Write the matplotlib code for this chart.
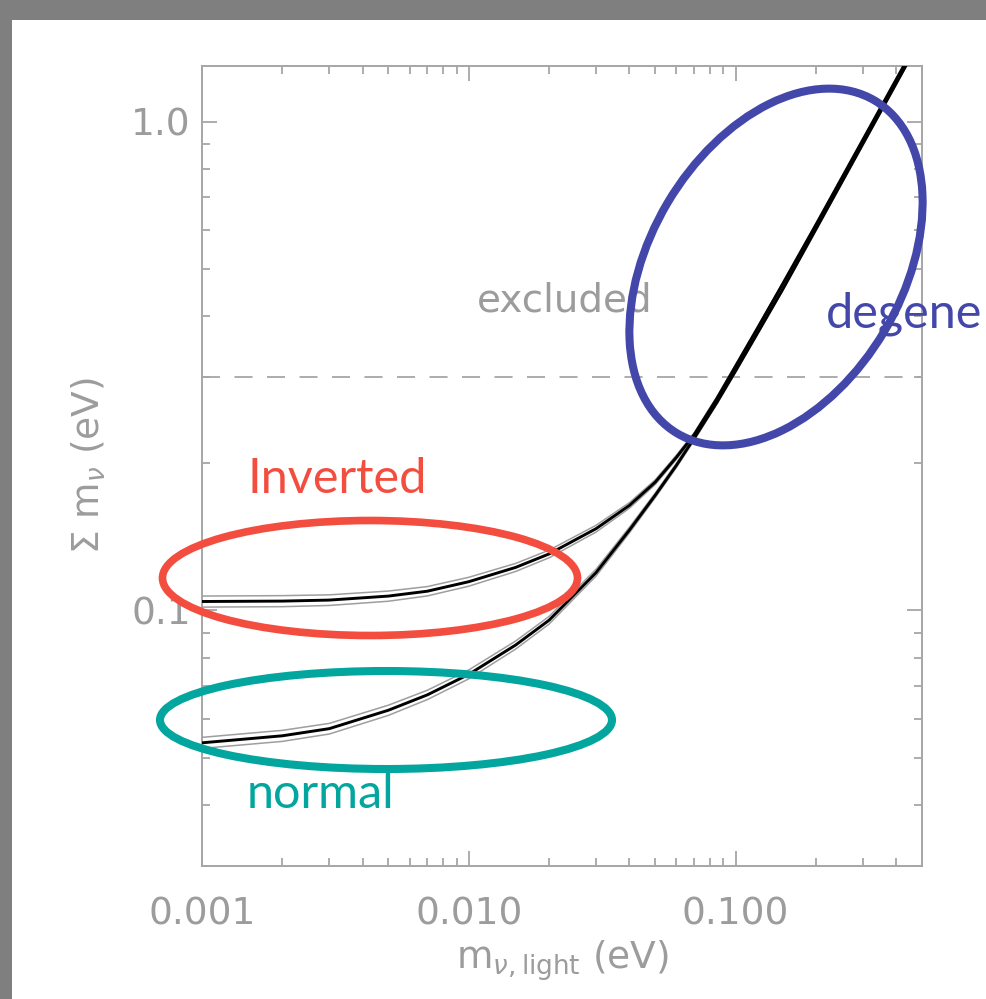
import numpy as np
import matplotlib
matplotlib.use('Agg')
import matplotlib.pyplot as plt
from matplotlib.patches import Ellipse, Rectangle
from matplotlib.ticker import LogLocator, NullFormatter, FixedLocator, FixedFormatter

# lightest neutrino mass (eV) and the sum of masses
m_light = [0.001, 0.002, 0.003, 0.005, 0.007, 0.01, 0.015, 0.02, 0.03, 0.04,
           0.05, 0.06, 0.07, 0.085, 0.1, 0.12, 0.15, 0.2, 0.3, 0.45]
sum_normal = [0.0536, 0.0554, 0.0573, 0.0625, 0.0672, 0.0740, 0.0850, 0.0955, 0.1195, 0.146,
              0.172, 0.198, 0.2251, 0.2661, 0.309, 0.3668, 0.453, 0.602, 0.900, 1.345]
sum_inverted = [0.1043, 0.1045, 0.1050, 0.1070, 0.1095, 0.1145, 0.1225, 0.1305, 0.1470, 0.1640,
                0.1830, 0.2057, 0.2290, 0.2711, 0.316, 0.3755, 0.465, 0.615, 0.918, 1.37]
# relative half width of the grey uncertainty band
band_rel = [0.026, 0.026, 0.025, 0.024, 0.022, 0.021, 0.019, 0.018, 0.016, 0.013,
            0.011, 0.010, 0.009, 0.008, 0.007, 0.006, 0.005, 0.004, 0.004, 0.004]

excluded_limit = 0.3

x_ticks = [0.001, 0.01, 0.1]
x_tick_labels = ['0.001', '0.010', '0.100']
y_ticks = [0.1, 1.0]
y_tick_labels = ['0.1', '1.0']

W, H = 986, 999
AX_GREY = '#a6a6a6'
TXT_GREY = '#9c9c9c'
RED = '#f24d3e'
TEAL = '#03a59f'
BLUE = '#4347a9'


def draw_hierarchy(ax, x, y, rel):
    x = np.array(x)
    y = np.array(y)
    rel = np.array(rel)
    ax.plot(x, y * (1 + rel), color='#9e9e9e', lw=1.1, zorder=3)
    ax.plot(x, y * (1 - rel), color='#9e9e9e', lw=1.1, zorder=3)
    ax.plot(x, y, color='black', lw=2.1, zorder=4)


def main():
    fig = plt.figure(figsize=(W / 100, H / 100), dpi=100)
    fig.patch.set_facecolor('#7f7f7f')
    # white page with grey strip on left and top
    fig.add_artist(Rectangle((12 / W, 0), 1, (H - 20) / H, transform=fig.transFigure,
                             facecolor='white', edgecolor='none', zorder=0))

    ax = fig.add_axes([202 / W, (H - 866) / H, 720 / W, 800 / H])
    ax.set_facecolor('none')
    ax.set_xscale('log')
    ax.set_yscale('log')
    ax.set_xlim(0.001, 0.5)
    ax.set_ylim(0.03, 1.3)

    draw_hierarchy(ax, m_light, sum_normal, band_rel)
    draw_hierarchy(ax, m_light, sum_inverted, band_rel)

    ax.axhline(excluded_limit, color=AX_GREY, lw=1.3, ls=(0, (10, 8)), zorder=2)
    ax.text(0.0228, 0.43, 'excluded', color=TXT_GREY, fontsize=28,
            ha='center', va='center', zorder=2)

    for sp in ax.spines.values():
        sp.set_color(AX_GREY)
        sp.set_linewidth(1.4)

    ax.xaxis.set_major_locator(FixedLocator(x_ticks))
    ax.xaxis.set_major_formatter(FixedFormatter(x_tick_labels))
    ax.xaxis.set_minor_locator(LogLocator(base=10, subs=np.arange(2, 10)))
    ax.xaxis.set_minor_formatter(NullFormatter())
    ax.yaxis.set_major_locator(FixedLocator(y_ticks))
    ax.yaxis.set_major_formatter(FixedFormatter(y_tick_labels))
    ax.yaxis.set_minor_locator(LogLocator(base=10, subs=np.arange(2, 10)))
    ax.yaxis.set_minor_formatter(NullFormatter())

    ax.tick_params(which='both', direction='in', top=True, right=True,
                   color=AX_GREY, labelcolor=TXT_GREY, labelsize=27, width=1.3)
    ax.tick_params(which='major', length=11)
    ax.tick_params(which='minor', length=6)
    ax.tick_params(axis='x', which='major', pad=22)
    ax.tick_params(axis='y', which='major', pad=8)

    ax.set_xlabel(r'm$_{\nu,\mathrm{light}}$ (eV)', color=TXT_GREY, fontsize=27)
    ax.xaxis.set_label_coords(0.5, -0.09)
    ax.set_ylabel(r'$\Sigma$ m$_\nu$ (eV)', color=TXT_GREY, fontsize=27)
    ax.yaxis.set_label_coords(-0.13, 0.5)

    # overlay in pixel units for the hand drawn ellipses and labels
    ov = fig.add_axes([0, 0, 1, 1], zorder=5)
    ov.set_xlim(0, W)
    ov.set_ylim(0, H)
    ov.axis('off')
    ov.patch.set_alpha(0)

    ov.add_patch(Ellipse((370, H - 578), 415, 115, fill=False, ec=RED, lw=5.5))
    ov.add_patch(Ellipse((386, H - 720), 452, 98, fill=False, ec=TEAL, lw=5.8))
    ov.add_patch(Ellipse((776, H - 267), 252, 387, angle=-30.7, fill=False, ec=BLUE, lw=5.8))

    font = ['Lato', 'DejaVu Sans']
    ov.text(247, H - 493, 'Inverted', color=RED, fontsize=35, family=font, va='baseline')
    ov.text(247, H - 808, 'normal', color=TEAL, fontsize=35, family=font, va='baseline')
    # the label is cut at the right edge of the source image
    ov.text(826, H - 328, 'degene', color=BLUE, fontsize=35, family=font, va='baseline')

    fig.savefig('out.png', dpi=100, facecolor=fig.get_facecolor())


main()
